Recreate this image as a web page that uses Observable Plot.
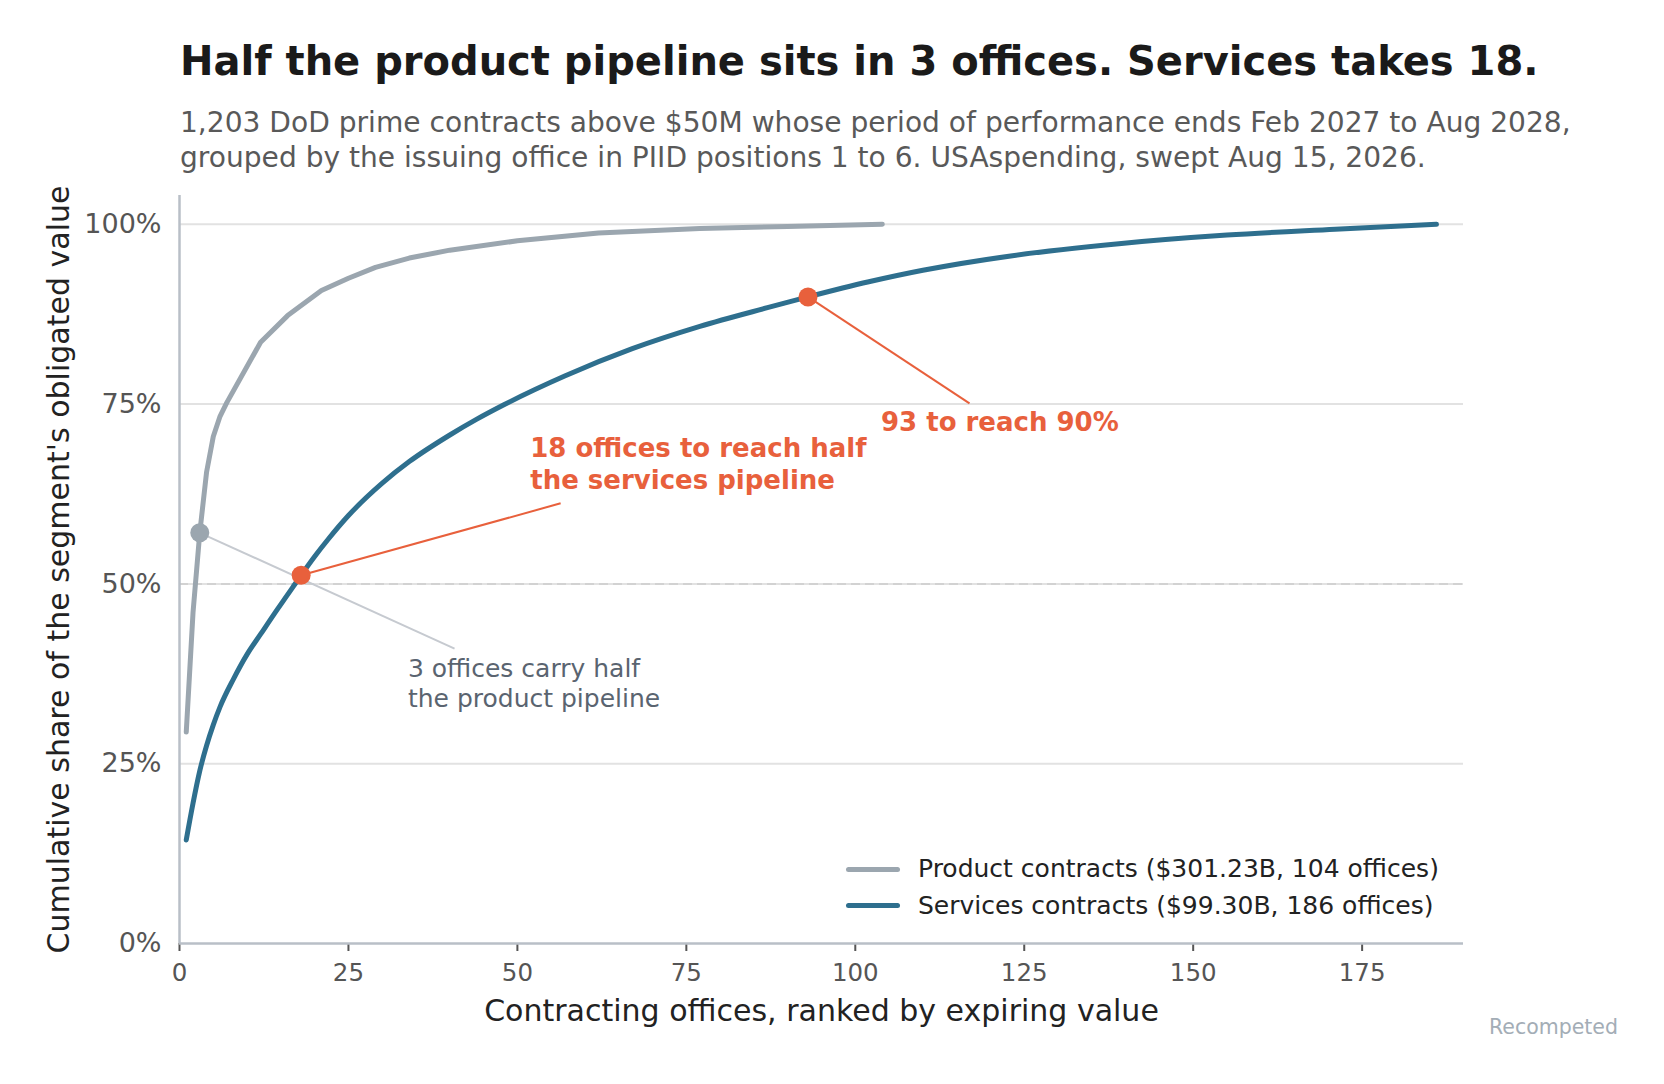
<!DOCTYPE html>
<html>
<head>
<meta charset="utf-8">
<script src="https://cdn.jsdelivr.net/npm/d3@7"></script>
<script src="https://cdn.jsdelivr.net/npm/@observablehq/plot@0.6"></script>
<style>
  html, body { margin: 0; padding: 0; background: #fff; }
  #wrap { position: relative; width: 1664px; height: 1084px; font-family: "DejaVu Sans", sans-serif; overflow: hidden; }
  #wrap svg { position: absolute; left: 0; top: 0; }
  .title { position: absolute; left: 180px; top: 41.2px; font-size: 40px; line-height: 40px; font-weight: bold; color: #1a1a1a; white-space: nowrap; }
  .subtitle { position: absolute; left: 180px; top: 104.5px; font-size: 28.1px; line-height: 35px; color: #595959; white-space: nowrap; }
  .legend-row { position: absolute; left: 846px; height: 25px; font-size: 25px; line-height: 25px; color: #222; white-space: nowrap; }
  .legend-row .sw { position: absolute; left: 0; width: 54px; height: 5px; border-radius: 3px; }
  .legend-row .lab { position: absolute; left: 72px; top: 0; }
  .credit { position: absolute; right: 46px; top: 1016.7px; font-size: 20.5px; line-height: 20.5px; color: #a3adb6; }
</style>
</head>
<body>
<div id="wrap">
  <div class="title">Half the product pipeline sits in 3 offices. Services takes 18.</div>
  <div class="subtitle">1,203 DoD prime contracts above $50M whose period of performance ends Feb 2027 to Aug 2028,<br>grouped by the issuing office in PIID positions 1 to 6. USAspending, swept Aug 15, 2026.</div>
</div>
<script>
// ---- data ----
const productOffices = [1, 2, 3, 4, 5, 6, 7, 12, 16, 21, 25, 29, 34, 40, 50, 62, 77, 90, 104];
const productShare   = [29.4, 46, 57.1, 65.5, 70.5, 73.3, 75.2, 83.6, 87.3, 90.8, 92.5, 94.0, 95.3, 96.4, 97.7, 98.8, 99.4, 99.7, 100];

const servicesOffices = [1, 2, 3, 4, 5, 6, 8, 10, 12, 14, 16, 18, 20, 22, 25, 30, 34, 40, 44, 48, 57, 67, 77, 87, 93, 102, 110, 123, 139, 155, 171, 186];
const servicesShare   = [14.4, 19.5, 24.0, 27.5, 30.4, 32.9, 36.8, 40.2, 43.0, 45.8, 48.5, 51.2, 53.8, 56.2, 59.5, 64.0, 67.0, 70.7, 72.9, 74.9, 78.9, 82.7, 85.8, 88.4, 89.9, 92.0, 93.6, 95.6, 97.3, 98.5, 99.3, 100];

const seriesNames = ["Product contracts ($301.23B, 104 offices)", "Services contracts ($99.30B, 186 offices)"];
const seriesColors = ["#9ba6af", "#2e6f8e"];

const xTicks = [0, 25, 50, 75, 100, 125, 150, 175];
const yTicks = [0, 25, 50, 75, 100];
const gridTicks = [25, 50, 75, 100];

const xLabel = "Contracting offices, ranked by expiring value";
const yLabel = "Cumulative share of the segment's obligated value";

// highlighted points
const highlightPoints = [
  {x: 3, y: 57.1, color: "#9ba6af"},
  {x: 18, y: 51.2, color: "#e8603c"},
  {x: 93, y: 89.9, color: "#e8603c"}
];
// annotation connectors: from point to text
const connectors = [
  {x1: 3, y1: 57.1, x2: 40.7, y2: 41.0, color: "#c6cad0"},
  {x1: 18, y1: 51.2, x2: 56.4, y2: 61.2, color: "#e8603c"},
  {x1: 93, y1: 89.9, x2: 116.9, y2: 75.1, color: "#e8603c"}
];
const notes = [
  {x: 33.8, y: 32.9, text: "3 offices carry half\nthe product pipeline", color: "#5a6470", weight: "normal", size: 25, lh: 1.2},
  {x: 51.9, y: 63.2, text: "18 offices to reach half\nthe services pipeline", color: "#e8603c", weight: "bold", size: 26, lh: 1.24},
  {x: 103.8, y: 71.25, text: "93 to reach 90%", color: "#e8603c", weight: "bold", size: 26, lh: 1.2}
];

const product = productOffices.map((x, i) => ({x, y: productShare[i]}));
const services = servicesOffices.map((x, i) => ({x, y: servicesShare[i]}));

const chart = Plot.plot({
  width: 1664,
  height: 1084,
  marginLeft: 179,
  marginRight: 201,
  marginTop: 195,
  marginBottom: 141,
  style: {fontFamily: "DejaVu Sans", fontSize: "24.5px", background: "transparent", overflow: "visible"},
  x: {domain: [0, 190]},
  y: {domain: [0, 104]},
  marks: [
    Plot.gridY(gridTicks, {stroke: "#e2e2e2", strokeOpacity: 1, strokeWidth: 2}),
    Plot.ruleY([50], {stroke: "#d2d2d2", strokeWidth: 2, strokeDasharray: "9,5"}),
    Plot.axisX(xTicks, {tickSize: 8, tickPadding: 12, color: "#555", strokeWidth: 2, fontSize: 24.5, label: null}),
    Plot.axisY(yTicks, {tickSize: 0, tickPadding: 18, color: "#555", fontSize: 27, label: null, tickFormat: d => d + "%"}),
    Plot.ruleY([0], {stroke: "#b9bfc7", strokeWidth: 2.5}),
    Plot.ruleX([0], {stroke: "#b9bfc7", strokeWidth: 2.5}),
    Plot.line(product, {x: "x", y: "y", stroke: seriesColors[0], strokeWidth: 5, strokeLinecap: "round", strokeLinejoin: "round"}),
    Plot.line(services, {x: "x", y: "y", stroke: seriesColors[1], strokeWidth: 5, strokeLinecap: "round", strokeLinejoin: "round", curve: "monotone-x"}),
    Plot.link(connectors, {x1: "x1", y1: "y1", x2: "x2", y2: "y2", stroke: "color", strokeWidth: 2}),
    Plot.dot(highlightPoints, {x: "x", y: "y", r: 9.5, fill: "color", stroke: null}),
    ...notes.map(n => Plot.text([n], {x: "x", y: "y", text: "text", fill: n.color, fontWeight: n.weight, fontSize: n.size, textAnchor: "start", lineAnchor: "bottom", lineHeight: n.lh})),
    Plot.text([xLabel], {frameAnchor: "bottom", dy: 77, fontSize: 30, fill: "#222", textAnchor: "middle", lineAnchor: "bottom"}),
    Plot.text([yLabel], {frameAnchor: "left", dx: -111, rotate: -90, fontSize: 30, fill: "#222", textAnchor: "middle", lineAnchor: "bottom"})
  ]
});

const wrap = document.getElementById("wrap");
wrap.insertBefore(chart, wrap.firstChild);

// legend (HTML overlay)
const legendTops = [856, 892.7];
const swatchCenters = [869.3, 906];
seriesNames.forEach((name, i) => {
  const row = document.createElement("div");
  row.className = "legend-row";
  row.style.top = legendTops[i] + "px";
  const sw = document.createElement("div");
  sw.className = "sw";
  sw.style.background = seriesColors[i];
  sw.style.top = (swatchCenters[i] - legendTops[i] - 2.5) + "px";
  const lab = document.createElement("div");
  lab.className = "lab";
  lab.textContent = name;
  row.appendChild(sw);
  row.appendChild(lab);
  wrap.appendChild(row);
});

const credit = document.createElement("div");
credit.className = "credit";
credit.textContent = "Recompeted";
wrap.appendChild(credit);
</script>
</body>
</html>
